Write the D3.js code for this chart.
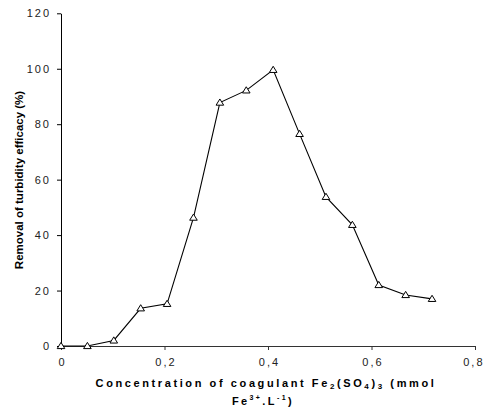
<!DOCTYPE html>
<html lang="en">

<head>
    <meta charset="UTF-8">
    <title>Turbidity removal vs coagulant</title>
    <script src="https://unpkg.com/d3@7.8.0/dist/d3.min.js"></script>
    <style>
        body {
            margin: 0px;
            background: #fff;
        }
    </style>
</head>

<body>
    <script>
        // concentration (mmol Fe3+/L) and removal (%)
        const concentration = [0, 0.051, 0.102, 0.154, 0.205, 0.256, 0.307, 0.358, 0.41, 0.461, 0.512, 0.563, 0.614, 0.666, 0.717];
        const removal = [0, 0, 2, 13.6, 15.2, 46.3, 87.8, 92.2, 99.6, 76.5, 53.8, 43.7, 22, 18.4, 17];
        const xTicks = [0, 0.2, 0.4, 0.6, 0.8];
        const yTicks = [0, 20, 40, 60, 80, 100, 120];

        const width = 483, height = 412;
        const margin = { top: 13.3, left: 61, right: 8, bottom: 66 };
        const font = 'Arial, "Liberation Sans", sans-serif';

        const svg = d3.select('body').append('svg')
            .attr('width', width)
            .attr('height', height);

        const xScale = d3.scaleLinear()
            .domain([0, 0.8])
            .range([margin.left, 475]);

        const yScale = d3.scaleLinear()
            .domain([0, 120])
            .range([346, margin.top]);

        const fmt = d => d3.format('.1~f')(d).replace('.', ',');

        // Y axis
        const yAxisG = svg.append('g')
            .attr('transform', `translate(${margin.left},0)`)
            .call(d3.axisLeft(yScale).tickValues(yTicks).tickSize(4).tickPadding(6).tickSizeOuter(0));
        yAxisG.selectAll('.tick text')
            .style('font-family', font)
            .style('font-size', '11px')
            .style('letter-spacing', '2px')
            .attr('fill', '#222');
        yAxisG.selectAll('line, .domain').attr('stroke', '#000');

        // X axis
        const xAxisG = svg.append('g')
            .attr('transform', `translate(0,${yScale(0)})`)
            .call(d3.axisBottom(xScale).tickValues(xTicks).tickFormat(fmt).tickSize(4).tickPadding(8).tickSizeOuter(0));
        xAxisG.selectAll('.tick text')
            .style('font-family', font)
            .style('font-size', '11px')
            .style('letter-spacing', '2px')
            .attr('dx', '1px')
            .attr('fill', '#222');
        // last label would run past the edge
        xAxisG.selectAll('.tick text').filter(d => d === 0.8)
            .attr('text-anchor', 'end')
            .attr('dx', '9px');
        xAxisG.selectAll('line, .domain').attr('stroke', '#333');

        // line + markers
        const pts = concentration.map((c, i) => [c, removal[i]]);
        const line = d3.line()
            .x(d => xScale(d[0]))
            .y(d => yScale(d[1]));

        svg.append('path')
            .datum(pts)
            .attr('d', line)
            .attr('fill', 'none')
            .attr('stroke', '#000')
            .attr('stroke-width', 1.1);

        svg.selectAll('.marker')
            .data(pts)
            .enter().append('path')
            .attr('class', 'marker')
            .attr('transform', d => `translate(${xScale(d[0])},${yScale(d[1])})`)
            .attr('d', 'M0,-3.6L3.8,2.6L-3.8,2.6Z')
            .attr('fill', '#fff')
            .attr('stroke', '#000')
            .attr('stroke-width', 1);

        // axis labels
        svg.append('text')
            .attr('transform', `translate(23,180) rotate(-90)`)
            .attr('text-anchor', 'middle')
            .style('font-family', font)
            .style('font-size', '11.5px')
            .style('font-weight', 'bold')
            .text('Removal of turbidity efficacy (%)');

        const xLabel = svg.append('text')
            .attr('text-anchor', 'middle')
            .attr('x', 266).attr('y', 387)
            .style('font-family', font)
            .style('font-size', '11px')
            .style('font-weight', 'bold')
            .style('letter-spacing', '2.6px');
        xLabel.append('tspan').text('Concentration of coagulant Fe');
        xLabel.append('tspan').text('2').attr('font-size', '8px').attr('dy', 2);
        xLabel.append('tspan').text('(SO').attr('dy', -2);
        xLabel.append('tspan').text('4').attr('font-size', '8px').attr('dy', 2);
        xLabel.append('tspan').text(')').attr('dy', -2);
        xLabel.append('tspan').text('3').attr('font-size', '8px').attr('dy', 2);
        xLabel.append('tspan').text(' (mmol').attr('dy', -2);

        const line2 = svg.append('text')
            .attr('text-anchor', 'middle')
            .attr('x', 263).attr('y', 405)
            .style('font-family', font)
            .style('font-size', '11px')
            .style('font-weight', 'bold')
            .style('letter-spacing', '2.4px');
        line2.append('tspan').text('Fe');
        line2.append('tspan').text('3+').attr('font-size', '7px').attr('dy', -5);
        line2.append('tspan').text('.L').attr('dy', 5);
        line2.append('tspan').text('-1').attr('font-size', '7px').attr('dy', -5);
        line2.append('tspan').text(')').attr('dy', 5);
    </script>
</body>

</html>
